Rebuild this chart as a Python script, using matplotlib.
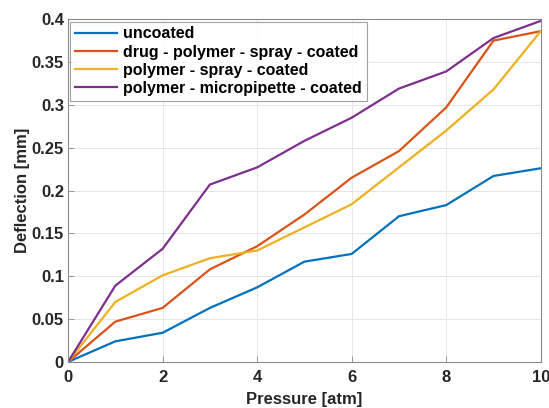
import matplotlib
matplotlib.use("Agg")
import matplotlib.pyplot as plt

plt.rcParams['font.family'] = ['Liberation Sans', 'DejaVu Sans']
plt.rcParams['font.weight'] = 'bold'

pressure = [0, 1, 2, 3, 4, 5, 6, 7, 8, 9, 10]
uncoated = [0, 0.024, 0.034, 0.063, 0.087, 0.117, 0.126, 0.170, 0.183, 0.217, 0.226]
drug_polymer_spray = [0, 0.047, 0.063, 0.108, 0.135, 0.172, 0.215, 0.246, 0.297, 0.375, 0.386]
polymer_spray = [0, 0.070, 0.101, 0.121, 0.130, 0.157, 0.184, 0.227, 0.270, 0.318, 0.386]
polymer_micropipette = [0, 0.089, 0.132, 0.207, 0.227, 0.258, 0.285, 0.319, 0.339, 0.378, 0.398]

labels = ['uncoated', 'drug - polymer - spray - coated',
          'polymer - spray - coated', 'polymer - micropipette - coated']
colors = ['#0072BD', '#D95319', '#EDB120', '#7E2F8E']
xticks = [0, 2, 4, 6, 8, 10]
yticks = [0, 0.05, 0.1, 0.15, 0.2, 0.25, 0.3, 0.35, 0.4]
yticklabels = ['0', '0.05', '0.1', '0.15', '0.2', '0.25', '0.3', '0.35', '0.4']

fig = plt.figure(figsize=(5.49, 4.08), dpi=100)
ax = fig.add_axes([0.124, 0.113, 0.861, 0.840])
for ys, lab, c in zip([uncoated, drug_polymer_spray, polymer_spray, polymer_micropipette], labels, colors):
    ax.plot(pressure, ys, color=c, lw=1.6, label=lab)

ax.set_xlim(0, 10)
ax.set_ylim(0, 0.4)
ax.set_xticks(xticks)
ax.set_yticks(yticks)
ax.set_yticklabels(yticklabels)
ax.grid(True, color='#e6e6e6', lw=0.7)
ax.set_axisbelow(True)
for s in ax.spines.values():
    s.set_color('#8a8a8a')
    s.set_linewidth(0.8)
ax.tick_params(direction='in', length=4, width=0.6, labelsize=12, colors='#8a8a8a',
               labelcolor='#262626', pad=3)
ax.tick_params(axis='x', pad=6)
for t in ax.get_xticklabels() + ax.get_yticklabels():
    t.set_fontweight('bold')
ax.set_xlabel('Pressure [atm]', fontsize=12, fontweight='bold', color='#262626', labelpad=5)
ax.set_ylabel('Deflection [mm]', fontsize=12, fontweight='bold', color='#262626', labelpad=1)

leg = ax.legend(loc='upper left', fontsize=11.5, frameon=True, fancybox=False,
                edgecolor='#8a8a8a', handlelength=2.6, borderpad=0.3, labelspacing=0.2,
                handletextpad=0.4, borderaxespad=0.15)
leg.get_frame().set_linewidth(0.8)
for t in leg.get_texts():
    t.set_fontweight('bold')

fig.savefig('out.png', dpi=100)
